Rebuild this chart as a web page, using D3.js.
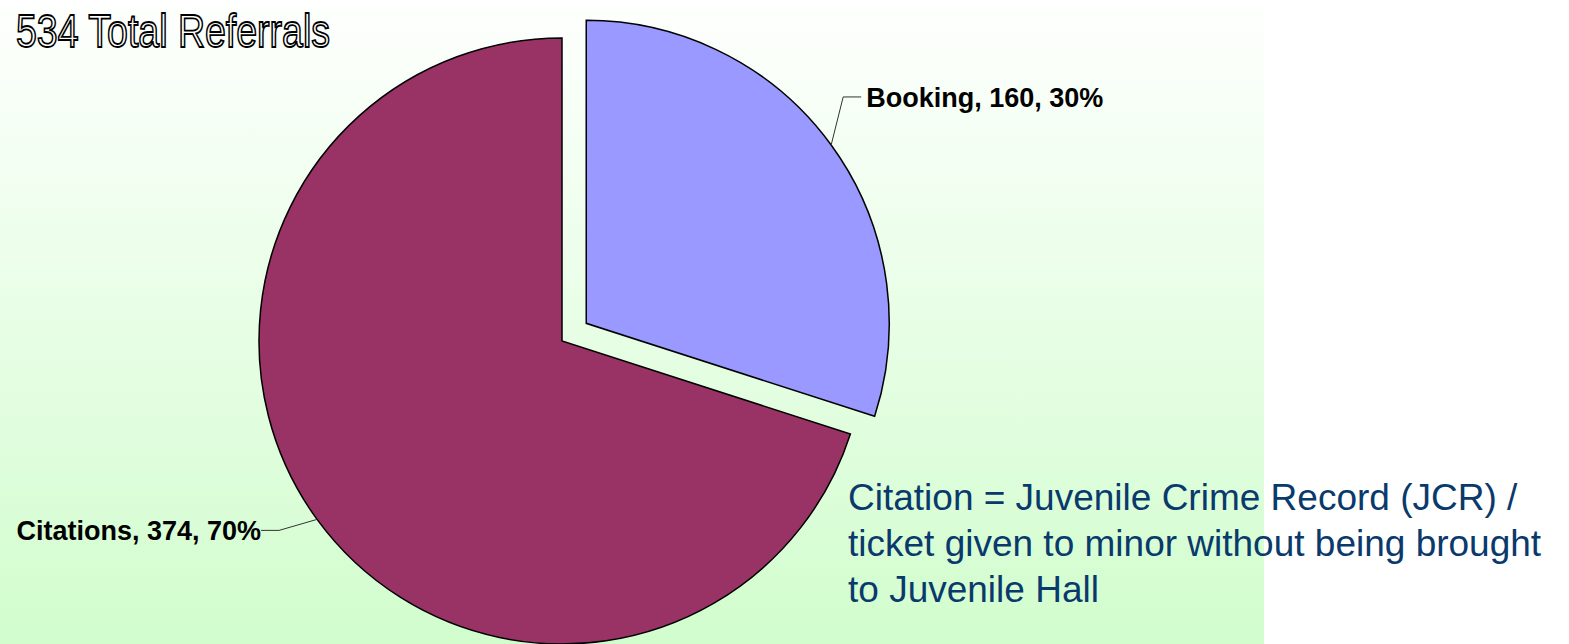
<!DOCTYPE html>
<html>
<head>
  <meta charset="utf-8">
  <title>534 Total Referrals</title>
  <script src="https://d3js.org/d3.v7.min.js"></script>
  <style>
    body { margin: 0; background: #fff; }
    svg { display: block; }
  </style>
</head>
<body>
<script>
  // data
  var categories = ["Booking", "Citations"];
  var counts = [160, 374];
  var colors = ["#9999ff", "#993366"];
  var titleText = "534 Total Referrals";
  var noteLines = [
    "Citation = Juvenile Crime Record (JCR) /",
    "ticket given to minor without being brought",
    "to Juvenile Hall"
  ];

  var width = 1569, height = 644;
  var cx = 562, cy = 341, radius = 303;
  var explode = [30, 0];          // Booking slice pulled out
  var elbow = [[12, -48], [-38, 11]];
  var tail = [18, -18];

  var svg = d3.select("body").append("svg")
    .attr("width", width).attr("height", height);

  // background gradient (plot area)
  var grad = svg.append("defs").append("linearGradient")
    .attr("id", "bg").attr("x1", 0).attr("y1", 0).attr("x2", 0).attr("y2", 1);
  grad.append("stop").attr("offset", "0%").attr("stop-color", "#fefffe");
  grad.append("stop").attr("offset", "100%").attr("stop-color", "#d1fdcd");
  svg.append("rect").attr("x", 0).attr("y", 0)
    .attr("width", 1264).attr("height", height)
    .attr("fill", "url(#bg)");

  var total = d3.sum(counts);
  var data = categories.map(function(c, i) {
    return { name: c, value: counts[i], color: colors[i], i: i };
  });

  var pie = d3.pie().sort(null).value(function(d) { return d.value; });
  var arc = d3.arc().innerRadius(0).outerRadius(radius);
  var arcs = pie(data);

  var g = svg.append("g").attr("transform", "translate(" + cx + "," + cy + ")");

  arcs.forEach(function(a) {
    var mid = (a.startAngle + a.endAngle) / 2;
    var ux = Math.sin(mid), uy = -Math.cos(mid);
    var off = explode[a.data.i];
    var ox = ux * off, oy = uy * off;

    g.append("path")
      .attr("d", arc(a))
      .attr("transform", "translate(" + ox + "," + oy + ")")
      .attr("fill", a.data.color)
      .attr("stroke", "#000")
      .attr("stroke-width", 1.5);

    // leader line
    var p0 = [ox + ux * radius, oy + uy * radius];
    var e = elbow[a.data.i];
    var p1 = [p0[0] + e[0], p0[1] + e[1]];
    var p2 = [p1[0] + tail[a.data.i], p1[1]];
    g.append("path")
      .attr("d", d3.line()([p0, p1, p2]))
      .attr("fill", "none")
      .attr("stroke", "#333")
      .attr("stroke-width", 1);

    var pct = Math.round(a.data.value / total * 100);
    var right = ux > 0;
    g.append("text")
      .attr("x", p2[0] + (right ? 5 : 0))
      .attr("y", p2[1] + 10)
      .attr("text-anchor", right ? "start" : "end")
      .attr("font-family", "Liberation Sans, Arial, sans-serif")
      .attr("font-weight", "bold")
      .attr("font-size", 27)
      .attr("fill", "#000")
      .text(a.data.name + ", " + a.data.value + ", " + pct + "%");
  });

  // title (outlined)
  svg.append("text")
    .attr("x", 16).attr("y", 47)
    .attr("font-family", "Liberation Sans, Arial, sans-serif")
    .attr("font-size", 47)
    .attr("textLength", 314)
    .attr("lengthAdjust", "spacingAndGlyphs")
    .attr("fill", "#fff")
    .attr("stroke", "#000")
    .attr("stroke-width", 1.8)
    .text(titleText);

  // note
  svg.append("g").selectAll("text")
    .data(noteLines)
    .enter().append("text")
    .attr("x", 848)
    .attr("y", function(d, i) { return 510 + i * 46; })
    .attr("font-family", "Liberation Sans, Arial, sans-serif")
    .attr("font-size", 37)
    .attr("fill", "#0a396c")
    .text(function(d) { return d; });
</script>
</body>
</html>
